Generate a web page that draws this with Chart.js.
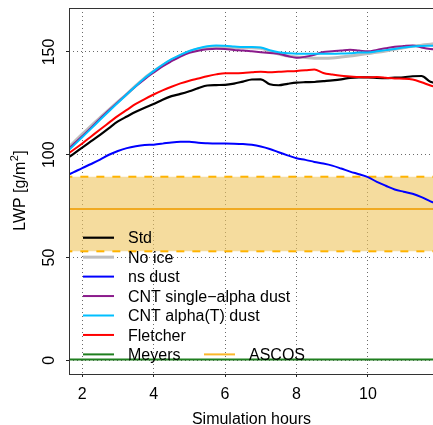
<!DOCTYPE html>
<html>
<head>
<meta charset="utf-8">
<title>LWP</title>
<script src="https://cdn.jsdelivr.net/npm/chart.js@4/dist/chart.umd.min.js"></script>
<style>
  html, body { margin: 0; padding: 0; overflow: hidden; background: #ffffff; }
  #c { display: block; }
</style>
</head>
<body>
<canvas id="c" width="436" height="425"></canvas>
<script>
// Simulation time (hours) shared by all model runs
const hours = [1.5, 1.75, 2, 2.25, 2.5, 2.75, 3, 3.25, 3.5, 3.75, 4, 4.25, 4.5, 4.75, 5, 5.25, 5.5, 5.75,
  6, 6.25, 6.5, 6.75, 7, 7.25, 7.5, 7.75, 8, 8.25, 8.5, 8.75, 9, 9.25, 9.5, 9.75, 10, 10.25, 10.5, 10.75,
  11, 11.25, 11.5, 11.75, 12];

// Liquid water path, g/m2
const lwpStd = [97.5, 100.3, 103.5, 106.6, 109.7, 113, 116.2, 118.6, 120.9, 122.9, 124.7, 126.8, 128.5, 129.6,
  130.9, 132.4, 133.7, 133.9, 134, 134.6, 135.6, 136.6, 136.7, 134.3, 133.8, 134.5, 135.1, 135.3, 135.4, 135.8,
  136.2, 136.7, 137.4, 137.6, 137.6, 137.4, 137.3, 137.5, 137.7, 138.2, 138.3, 135.5, 134.5];
const lwpNoIce = [101.6, 105.8, 110, 114, 118.1, 122, 125.8, 129.5, 133.6, 137.4, 140.6, 143.5, 146, 148.3,
  150.2, 151.5, 152.2, 152.4, 152.2, 152.1, 152, 152, 151.8, 150.3, 149, 148, 147.6, 147.3, 147, 147,
  147.1, 147.5, 148, 148.6, 149.2, 149.8, 150.5, 151.3, 152.1, 152.8, 153.3, 153.8, 154.2];
const lwpNsDust = [89.4, 91.4, 93.5, 95.5, 97.6, 100, 101.8, 103.2, 104.1, 104.7, 104.9, 105.4, 106, 106.3,
  106.3, 105.8, 105.6, 105.5, 105.5, 105.4, 105.2, 104.8, 104, 102.8, 101.2, 99.7, 98.3, 97.5, 96.5, 95.7,
  94.7, 93.3, 91.8, 90.5, 89.1, 86.8, 84.9, 83.1, 82, 81, 79.4, 77.3, 75.8];
const lwpCntSingle = [101, 105, 109, 113.2, 117.5, 121.6, 125.6, 129.5, 133.3, 136.8, 140, 143, 145.5, 147.8,
  149.6, 150.6, 151.3, 151.6, 151.4, 151, 150.7, 150.3, 149.9, 149.5, 149.1, 148, 147.2, 147.7, 148.6, 150,
  150.3, 150.7, 151.1, 150.7, 150.3, 151, 151.8, 152.5, 152.9, 153.2, 152.2, 151.5, 151.3];
const lwpCntAlphaT = [100.2, 104.3, 108.5, 112.7, 117, 121.2, 125.3, 129.4, 133.4, 137.3, 140.7, 143.8, 146.5, 148.6,
  150.5, 151.8, 152.8, 153.2, 153, 152.7, 152.4, 152.4, 152.2, 150.8, 149.9, 149.4, 149.1, 149.1, 149.1, 149.1,
  149.1, 149.2, 149.4, 149.7, 149.8, 150.3, 150.9, 151.5, 152.2, 152.7, 152.9, 153, 153.1];
const lwpFletcher = [99.2, 102.3, 105.5, 108.9, 112.3, 115.6, 118.9, 121.8, 124.7, 127.1, 129.3, 131.3, 133.1, 134.7,
  136, 137.1, 138.2, 139.1, 139.7, 139.7, 139.8, 140.1, 140.4, 140.1, 140.4, 140.6, 140.8, 141.1, 141.5, 139.8,
  139, 138.4, 138.1, 137.8, 137.7, 137.8, 137.5, 137.1, 137, 136.6, 135.3, 133.7, 132.6];
const lwpMeyers = [0.3, 0.3, 0.3, 0.3, 0.3, 0.3, 0.3, 0.3, 0.3, 0.3, 0.3, 0.3, 0.3, 0.3,
  0.3, 0.3, 0.3, 0.3, 0.3, 0.3, 0.3, 0.3, 0.3, 0.3, 0.3, 0.3, 0.3, 0.3, 0.3, 0.3,
  0.3, 0.3, 0.3, 0.3, 0.3, 0.3, 0.3, 0.3, 0.3, 0.3, 0.3, 0.3, 0.3];

// ASCOS observations: mean and range
const ascosHours = [1.5, 12];
const ascosMean = [73.6, 73.6];
const ascosLow = [53, 53];
const ascosHigh = [89.3, 89.3];

const seriesNames = ['Std', 'No ice', 'ns dust', 'CNT single\u2212alpha dust', 'CNT alpha(T) dust', 'Fletcher', 'Meyers', 'ASCOS'];
const xTickLabels = [2, 4, 6, 8, 10];
const yTickLabels = [0, 50, 100, 150];
const xTitle = 'Simulation hours';

const FONT_FAMILY = '"Liberation Sans", Arial, Helvetica, sans-serif';
const FONT = '16px ' + FONT_FAMILY;

const pts = (xs, ys) => xs.map((x, i) => ({ x: x, y: ys[i] }));

const lineStyles = [
  { color: '#000000', width: 2.2 },
  { color: '#bebebe', width: 3 },
  { color: '#0000ff', width: 2 },
  { color: '#8b1a8b', width: 2 },
  { color: '#00bfff', width: 2 },
  { color: '#ff0000', width: 2 },
  { color: '#1f7f1f', width: 2 },
  { color: '#fbb829', width: 2 }
];
const modelSeries = [lwpStd, lwpNoIce, lwpNsDust, lwpCntSingle, lwpCntAlphaT, lwpFletcher, lwpMeyers];

const datasets = [];
// observation band (drawn first)
datasets.push({
  label: 'ASCOS range', data: pts(ascosHours, ascosHigh),
  borderColor: '#ffb300', borderWidth: 2, borderDash: [8, 8], pointRadius: 0,
  fill: { value: ascosLow[0] }, backgroundColor: 'rgba(238,197,93,0.6)', order: 30, clip: 0
});
datasets.push({
  label: 'ASCOS low', data: pts(ascosHours, ascosLow),
  borderColor: '#ffb300', borderWidth: 2, borderDash: [8, 8], pointRadius: 0,
  fill: false, order: 29, clip: 0
});
datasets.push({
  label: 'ASCOS', data: pts(ascosHours, ascosMean),
  borderColor: '#f0aa22', borderWidth: 2, pointRadius: 0, fill: false, order: 28, clip: 0
});
modelSeries.forEach((ys, i) => {
  datasets.push({
    label: seriesNames[i], data: pts(hours, ys),
    borderColor: lineStyles[i].color, borderWidth: lineStyles[i].width,
    pointRadius: 0, fill: false, cubicInterpolationMode: 'monotone',
    order: 20 - i, clip: 0
  });
});

// axis labels, box and legend in base-graphics style
const decorPlugin = {
  id: 'decor',
  afterDraw(chart) {
    const { ctx, chartArea: a, scales: { x, y } } = chart;
    ctx.save();
    ctx.strokeStyle = '#333333';
    ctx.lineWidth = 1;
    ctx.strokeRect(Math.round(a.left) + 0.5, Math.round(a.top) + 0.5, a.right - a.left, a.bottom - a.top);

    ctx.fillStyle = '#000000';
    ctx.font = FONT;
    ctx.textAlign = 'center';
    ctx.textBaseline = 'alphabetic';
    xTickLabels.forEach(v => ctx.fillText(String(v), x.getPixelForValue(v), a.bottom + 24.5));
    yTickLabels.forEach(v => {
      ctx.save();
      ctx.translate(a.left - 15.5, y.getPixelForValue(v));
      ctx.rotate(-Math.PI / 2);
      ctx.fillText(String(v), 0, 0);
      ctx.restore();
    });
    ctx.fillText(xTitle, (a.left + a.right) / 2, a.bottom + 49.5);

    // y title with superscript
    const main = 'LWP [g/m', sup = '2', tail = ']';
    const supFont = '11px ' + FONT_FAMILY;
    ctx.font = FONT; const w1 = ctx.measureText(main).width; const w3 = ctx.measureText(tail).width;
    ctx.font = supFont; const w2 = ctx.measureText(sup).width;
    const total = w1 + w2 + w3;
    ctx.save();
    ctx.translate(a.left - 44.5, (a.top + a.bottom) / 2);
    ctx.rotate(-Math.PI / 2);
    ctx.textAlign = 'left';
    let px = -total / 2;
    ctx.font = FONT; ctx.fillText(main, px, 0); px += w1;
    ctx.font = supFont; ctx.fillText(sup, px + 0.5, -7); px += w2 + 1;
    ctx.font = FONT; ctx.fillText(tail, px, 0);
    ctx.restore();

    // legend
    ctx.font = FONT;
    ctx.textAlign = 'left';
    const rowTop = 237.7, rowStep = 19.45;
    const drawEntry = (idx, row, colX) => {
      const yy = rowTop + row * rowStep;
      const st = lineStyles[idx];
      ctx.strokeStyle = st.color;
      ctx.lineWidth = st.width;
      ctx.beginPath();
      ctx.moveTo(a.left + colX, yy);
      ctx.lineTo(a.left + colX + 31, yy);
      ctx.stroke();
      ctx.fillStyle = '#000000';
      ctx.fillText(seriesNames[idx], a.left + colX + 45, yy + 5.7);
    };
    for (let i = 0; i < 7; i++) drawEntry(i, i, 14);
    drawEntry(7, 6, 135);
    ctx.restore();
  }
};

const gridCommon = {
  color: '#6a6a6a', lineWidth: 1, drawTicks: true, tickLength: 3,
  tickColor: '#222222', tickWidth: 1, tickBorderDash: []
};

new Chart(document.getElementById('c'), {
  type: 'line',
  data: { datasets: datasets },
  options: {
    responsive: false,
    devicePixelRatio: 1,
    animation: false,
    layout: { padding: { top: 8, right: 2, left: 0, bottom: 0 } },
    plugins: { legend: { display: false }, tooltip: { enabled: false } },
    scales: {
      x: {
        type: 'linear', min: 1.63, max: 11.85,
        afterBuildTicks: s => { s.ticks = xTickLabels.map(v => ({ value: v })); },
        afterFit: s => { s.height = 51; },
        ticks: { display: false },
        grid: gridCommon,
        border: { display: false, dash: [1, 3] }
      },
      y: {
        type: 'linear', min: -6.7, max: 171.4,
        afterBuildTicks: s => { s.ticks = yTickLabels.map(v => ({ value: v })); },
        afterFit: s => { s.width = 69; },
        ticks: { display: false },
        grid: gridCommon,
        border: { display: false, dash: [1, 3] }
      }
    }
  },
  plugins: [decorPlugin]
});
</script>
</body>
</html>
